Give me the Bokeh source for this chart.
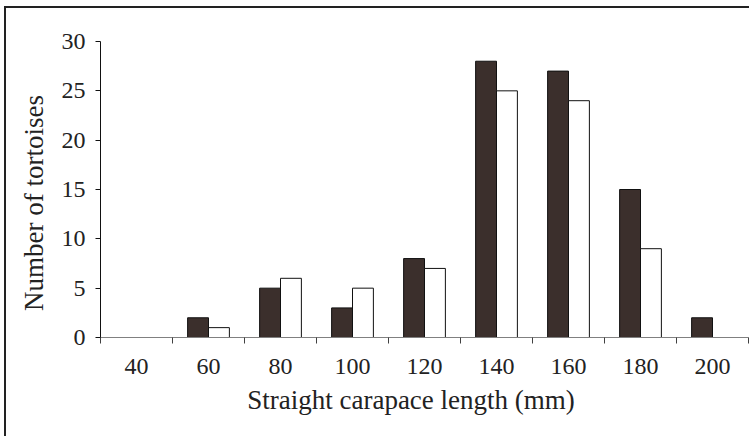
from bokeh.plotting import figure
from bokeh.models import FixedTicker, Range1d, ColumnDataSource
from bokeh.transform import dodge
from bokeh.embed import file_html
from bokeh.resources import INLINE

categories = ["40", "60", "80", "100", "120", "140", "160", "180", "200"]
dark_counts = [0, 2, 5, 3, 8, 28, 27, 15, 2]
white_counts = [0, 1, 6, 5, 7, 25, 24, 9, 0]
y_ticks = [0, 5, 10, 15, 20, 25, 30]

n = len(categories)
centers = [i + 0.5 for i in range(n)]
bw = 0.29

src = ColumnDataSource(dict(x=centers, dark=dark_counts, white=white_counts))

p = figure(width=745, height=430, output_backend="svg", toolbar_location=None,
           x_range=Range1d(0, n), y_range=Range1d(0, 30),
           min_border_left=94, min_border_right=3, min_border_top=33, min_border_bottom=101)
p.styles = {"margin-top": "6px", "margin-left": "4px",
            "border-top": "2px solid #222", "border-left": "2px solid #222"}

p.vbar(x=dodge('x', -bw / 2, range=p.x_range), top='dark', width=bw, source=src,
       fill_color="#3b2f2c", line_color="#111", line_width=1)
p.vbar(x=dodge('x', bw / 2, range=p.x_range), top='white', width=bw, source=src,
       fill_color="white", line_color="#111", line_width=1)

p.xgrid.visible = False
p.ygrid.visible = False
p.outline_line_color = None

font = "Liberation Serif"
for ax in (p.xaxis[0], p.yaxis[0]):
    ax.major_label_text_font = font
    ax.major_label_text_font_size = "24px"
    ax.major_label_text_color = "#222"
    ax.axis_label_text_font = font
    ax.axis_label_text_font_size = "27px"
    ax.axis_label_text_font_style = "normal"
    ax.axis_label_text_color = "#222"

nb = "\u00a0" * 4

xa = p.xaxis[0]
xa.ticker = FixedTicker(ticks=centers, minor_ticks=list(range(n + 1)))
xa.major_label_overrides = {c: lab for c, lab in zip(centers, categories)}
xa.major_tick_out = 0
xa.major_tick_in = 0
xa.minor_tick_out = 6
xa.minor_tick_in = 0
xa.minor_tick_line_color = "#404040"
xa.axis_line_color = "#808080"
xa.major_label_standoff = 15
xa.axis_label = "Straight carapace length (mm)" + nb
xa.axis_label_standoff = 8

ya = p.yaxis[0]
ya.ticker = FixedTicker(ticks=y_ticks)
ya.major_tick_out = 5
ya.major_tick_in = 0
ya.minor_tick_out = 0
ya.minor_tick_in = 0
ya.axis_line_color = "#111"
ya.major_tick_line_color = "#111"
ya.major_label_standoff = 10
ya.axis_label = "Number of tortoises" + nb
ya.axis_label_standoff = 10

open("out.html", "w").write(file_html(p, INLINE))
